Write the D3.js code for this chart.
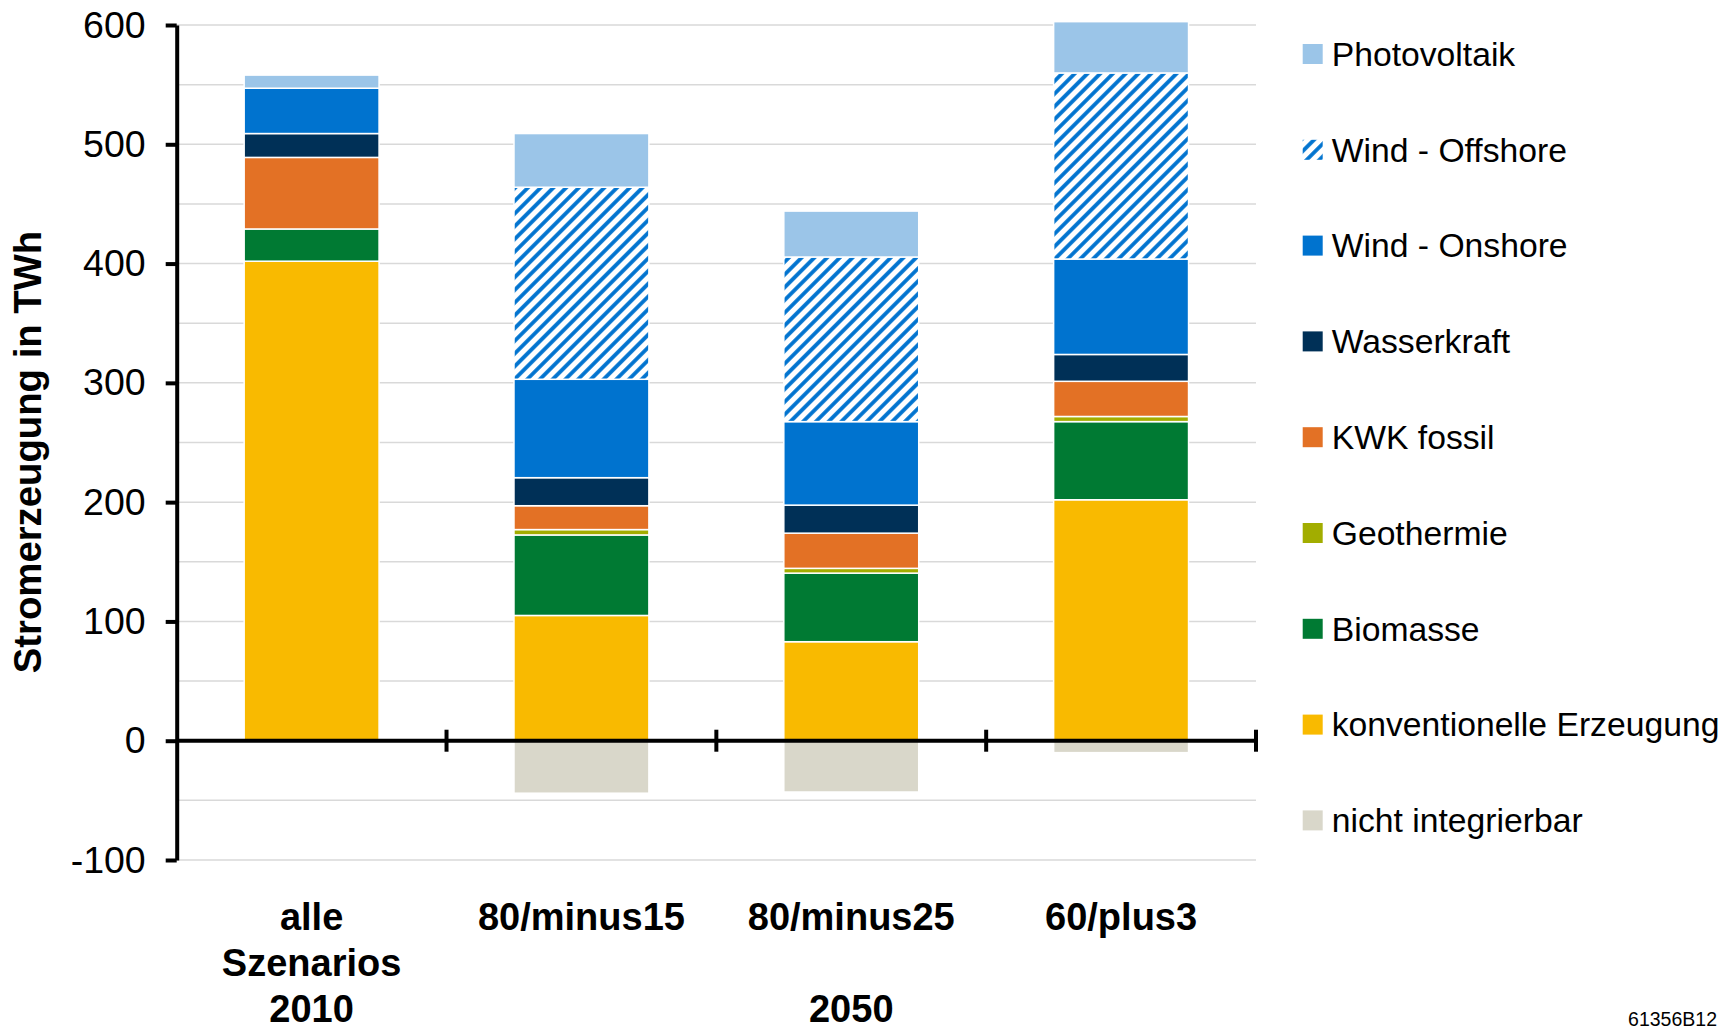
<!DOCTYPE html>
<html>
<head>
<meta charset="utf-8">
<script src="https://cdn.jsdelivr.net/npm/d3@7"></script>
<style>
  html, body { margin: 0; padding: 0; background: #fff; }
  svg { display: block; font-family: "Liberation Sans", Arial, Helvetica, sans-serif; }
</style>
</head>
<body>
<svg id="chart" width="1735" height="1030"></svg>
<script>
// ---- data ----
const categories = ["alle Szenarios", "80/minus15", "80/minus25", "60/plus3"];
const categoryLines = [["alle", "Szenarios"], ["80/minus15"], ["80/minus25"], ["60/plus3"]];
const yearLabels = ["2010", "", "2050", ""];

const seriesNames = ["konventionelle Erzeugung", "Biomasse", "Geothermie", "KWK fossil",
                     "Wasserkraft", "Wind - Onshore", "Wind - Offshore", "Photovoltaik"];
const konventionell = [402, 105, 83, 202];
const biomasse      = [27, 67.5, 57.5, 65.5];
const geothermie    = [0, 4.5, 4, 4.3];
const kwkFossil     = [60, 20, 29.5, 29.5];
const wasserkraft   = [20, 23.5, 23.5, 22.5];
const windOnshore   = [38, 82.5, 70, 80];
const windOffshore  = [0, 161, 138, 156];
const photovoltaik  = [11, 45, 38.5, 43];
const nichtIntegrierbar = [0, -44, -43, -10];

const yTicks = [-100, 0, 100, 200, 300, 400, 500, 600];
const gridValues = [-100, -50, 0, 50, 100, 150, 200, 250, 300, 350, 400, 450, 500, 550, 600];

const legendNames = ["Photovoltaik", "Wind - Offshore", "Wind - Onshore", "Wasserkraft", "KWK fossil",
                     "Geothermie", "Biomasse", "konventionelle Erzeugung", "nicht integrierbar"];

// ---- styles ----
const colors = {
  "konventionelle Erzeugung": "#F9BA00",
  "Biomasse": "#007A33",
  "Geothermie": "#A2AD00",
  "KWK fossil": "#E37125",
  "Wasserkraft": "#003057",
  "Wind - Onshore": "#0073CF",
  "Wind - Offshore": "url(#hatch)",
  "Photovoltaik": "#9BC5E8",
  "nicht integrierbar": "#D9D7CA"
};

const seriesValues = [konventionell, biomasse, geothermie, kwkFossil, wasserkraft, windOnshore, windOffshore, photovoltaik];

const svg = d3.select("#chart");

// hatch pattern
const defs = svg.append("defs");
const pat = defs.append("pattern")
  .attr("id", "hatch")
  .attr("patternUnits", "userSpaceOnUse")
  .attr("width", 9).attr("height", 9)
  .attr("patternTransform", "rotate(45)");
pat.append("rect").attr("width", 9).attr("height", 9).attr("fill", "#fff");
pat.append("line").attr("x1", 2).attr("y1", 0).attr("x2", 2).attr("y2", 9)
  .attr("stroke", "#0073CF").attr("stroke-width", 3.8);

// scales
const plotLeft = 176.7, plotRight = 1256;
const y = d3.scaleLinear().domain([-100, 600]).range([860, 25]);
const x = d3.scaleBand().domain(categories).range([plotLeft, plotRight])
  .paddingInner(0.5).paddingOuter(0.25);

// gridlines
svg.append("g").selectAll("line").data(gridValues).join("line")
  .attr("x1", plotLeft).attr("x2", plotRight)
  .attr("y1", d => y(d)).attr("y2", d => y(d))
  .attr("stroke", "#d9d9d9").attr("stroke-width", 1.5);

// stacked data
const rows = categories.map((c, i) => {
  const o = { cat: c };
  seriesNames.forEach((s, k) => o[s] = seriesValues[k][i]);
  return o;
});
const stack = d3.stack().keys(seriesNames)(rows);

const barsG = svg.append("g");
stack.forEach(layer => {
  barsG.append("g").selectAll("rect").data(layer).join("rect")
    .attr("x", d => x(d.data.cat))
    .attr("width", x.bandwidth())
    .attr("y", d => y(d[1]))
    .attr("height", d => Math.max(0, y(d[0]) - y(d[1])))
    .attr("fill", colors[layer.key])
    .attr("stroke", "#fff")
    .attr("stroke-width", d => (d[1] - d[0]) > 0 ? 1.5 : 0);
});

// negative segment
barsG.append("g").selectAll("rect").data(categories.map((c, i) => ({ cat: c, v: nichtIntegrierbar[i] })))
  .join("rect")
  .attr("x", d => x(d.cat))
  .attr("width", x.bandwidth())
  .attr("y", y(0))
  .attr("height", d => y(d.v) - y(0))
  .attr("fill", colors["nicht integrierbar"])
  .attr("stroke", "#fff")
  .attr("stroke-width", d => d.v < 0 ? 1.5 : 0);

// y axis
const yAxis = d3.axisLeft(y).tickValues(yTicks).tickSize(11).tickSizeOuter(0).tickPadding(20)
  .tickFormat(d => String(d));
const yg = svg.append("g").attr("transform", `translate(${plotLeft},0)`).call(yAxis);
yg.select(".domain").attr("stroke", "#000").attr("stroke-width", 4);
yg.selectAll(".tick line").attr("stroke", "#000").attr("stroke-width", 4);
yg.selectAll(".tick text").attr("font-size", 37.5).attr("fill", "#000")
  .attr("font-family", "'Liberation Sans', Arial, sans-serif");

// x axis (zero line with category separators)
const xg = svg.append("g");
xg.append("line").attr("x1", plotLeft).attr("x2", plotRight)
  .attr("y1", y(0)).attr("y2", y(0)).attr("stroke", "#000").attr("stroke-width", 4);
const boundaries = categories.map(c => x(c) + x.bandwidth() + (x.step() - x.bandwidth()) / 2);
xg.selectAll("line.sep").data(boundaries).join("line").attr("class", "sep")
  .attr("x1", d => d).attr("x2", d => d)
  .attr("y1", y(0) - 11).attr("y2", y(0) + 11)
  .attr("stroke", "#000").attr("stroke-width", 4);

// category labels
const labG = svg.append("g").attr("font-size", 38).attr("font-weight", "bold").attr("text-anchor", "middle");
categories.forEach((c, i) => {
  const cx = x(c) + x.bandwidth() / 2;
  categoryLines[i].forEach((line, j) => {
    labG.append("text").attr("x", cx).attr("y", 930 + j * 45.8).text(line);
  });
  if (yearLabels[i]) {
    labG.append("text").attr("x", cx).attr("y", 1021.6).text(yearLabels[i]);
  }
});

// y title
svg.append("text")
  .attr("transform", "translate(41,452) rotate(-90)")
  .attr("text-anchor", "middle")
  .attr("font-size", 38.3).attr("font-weight", "bold")
  .text("Stromerzeugung in TWh");

// legend
const lg = svg.append("g");
legendNames.forEach((name, i) => {
  const cy = 54 + i * 95.8;
  lg.append("rect").attr("x", 1302.7).attr("y", cy - 10).attr("width", 20).attr("height", 20)
    .attr("fill", colors[name]);
  lg.append("text").attr("x", 1331.7).attr("y", cy + 11.7)
    .attr("font-size", 33.7).attr("fill", "#000").text(name);
});

// footnote id
svg.append("text").attr("x", 1717).attr("y", 1026).attr("text-anchor", "end")
  .attr("font-size", 19.5).text("61356B12");
</script>
</body>
</html>
